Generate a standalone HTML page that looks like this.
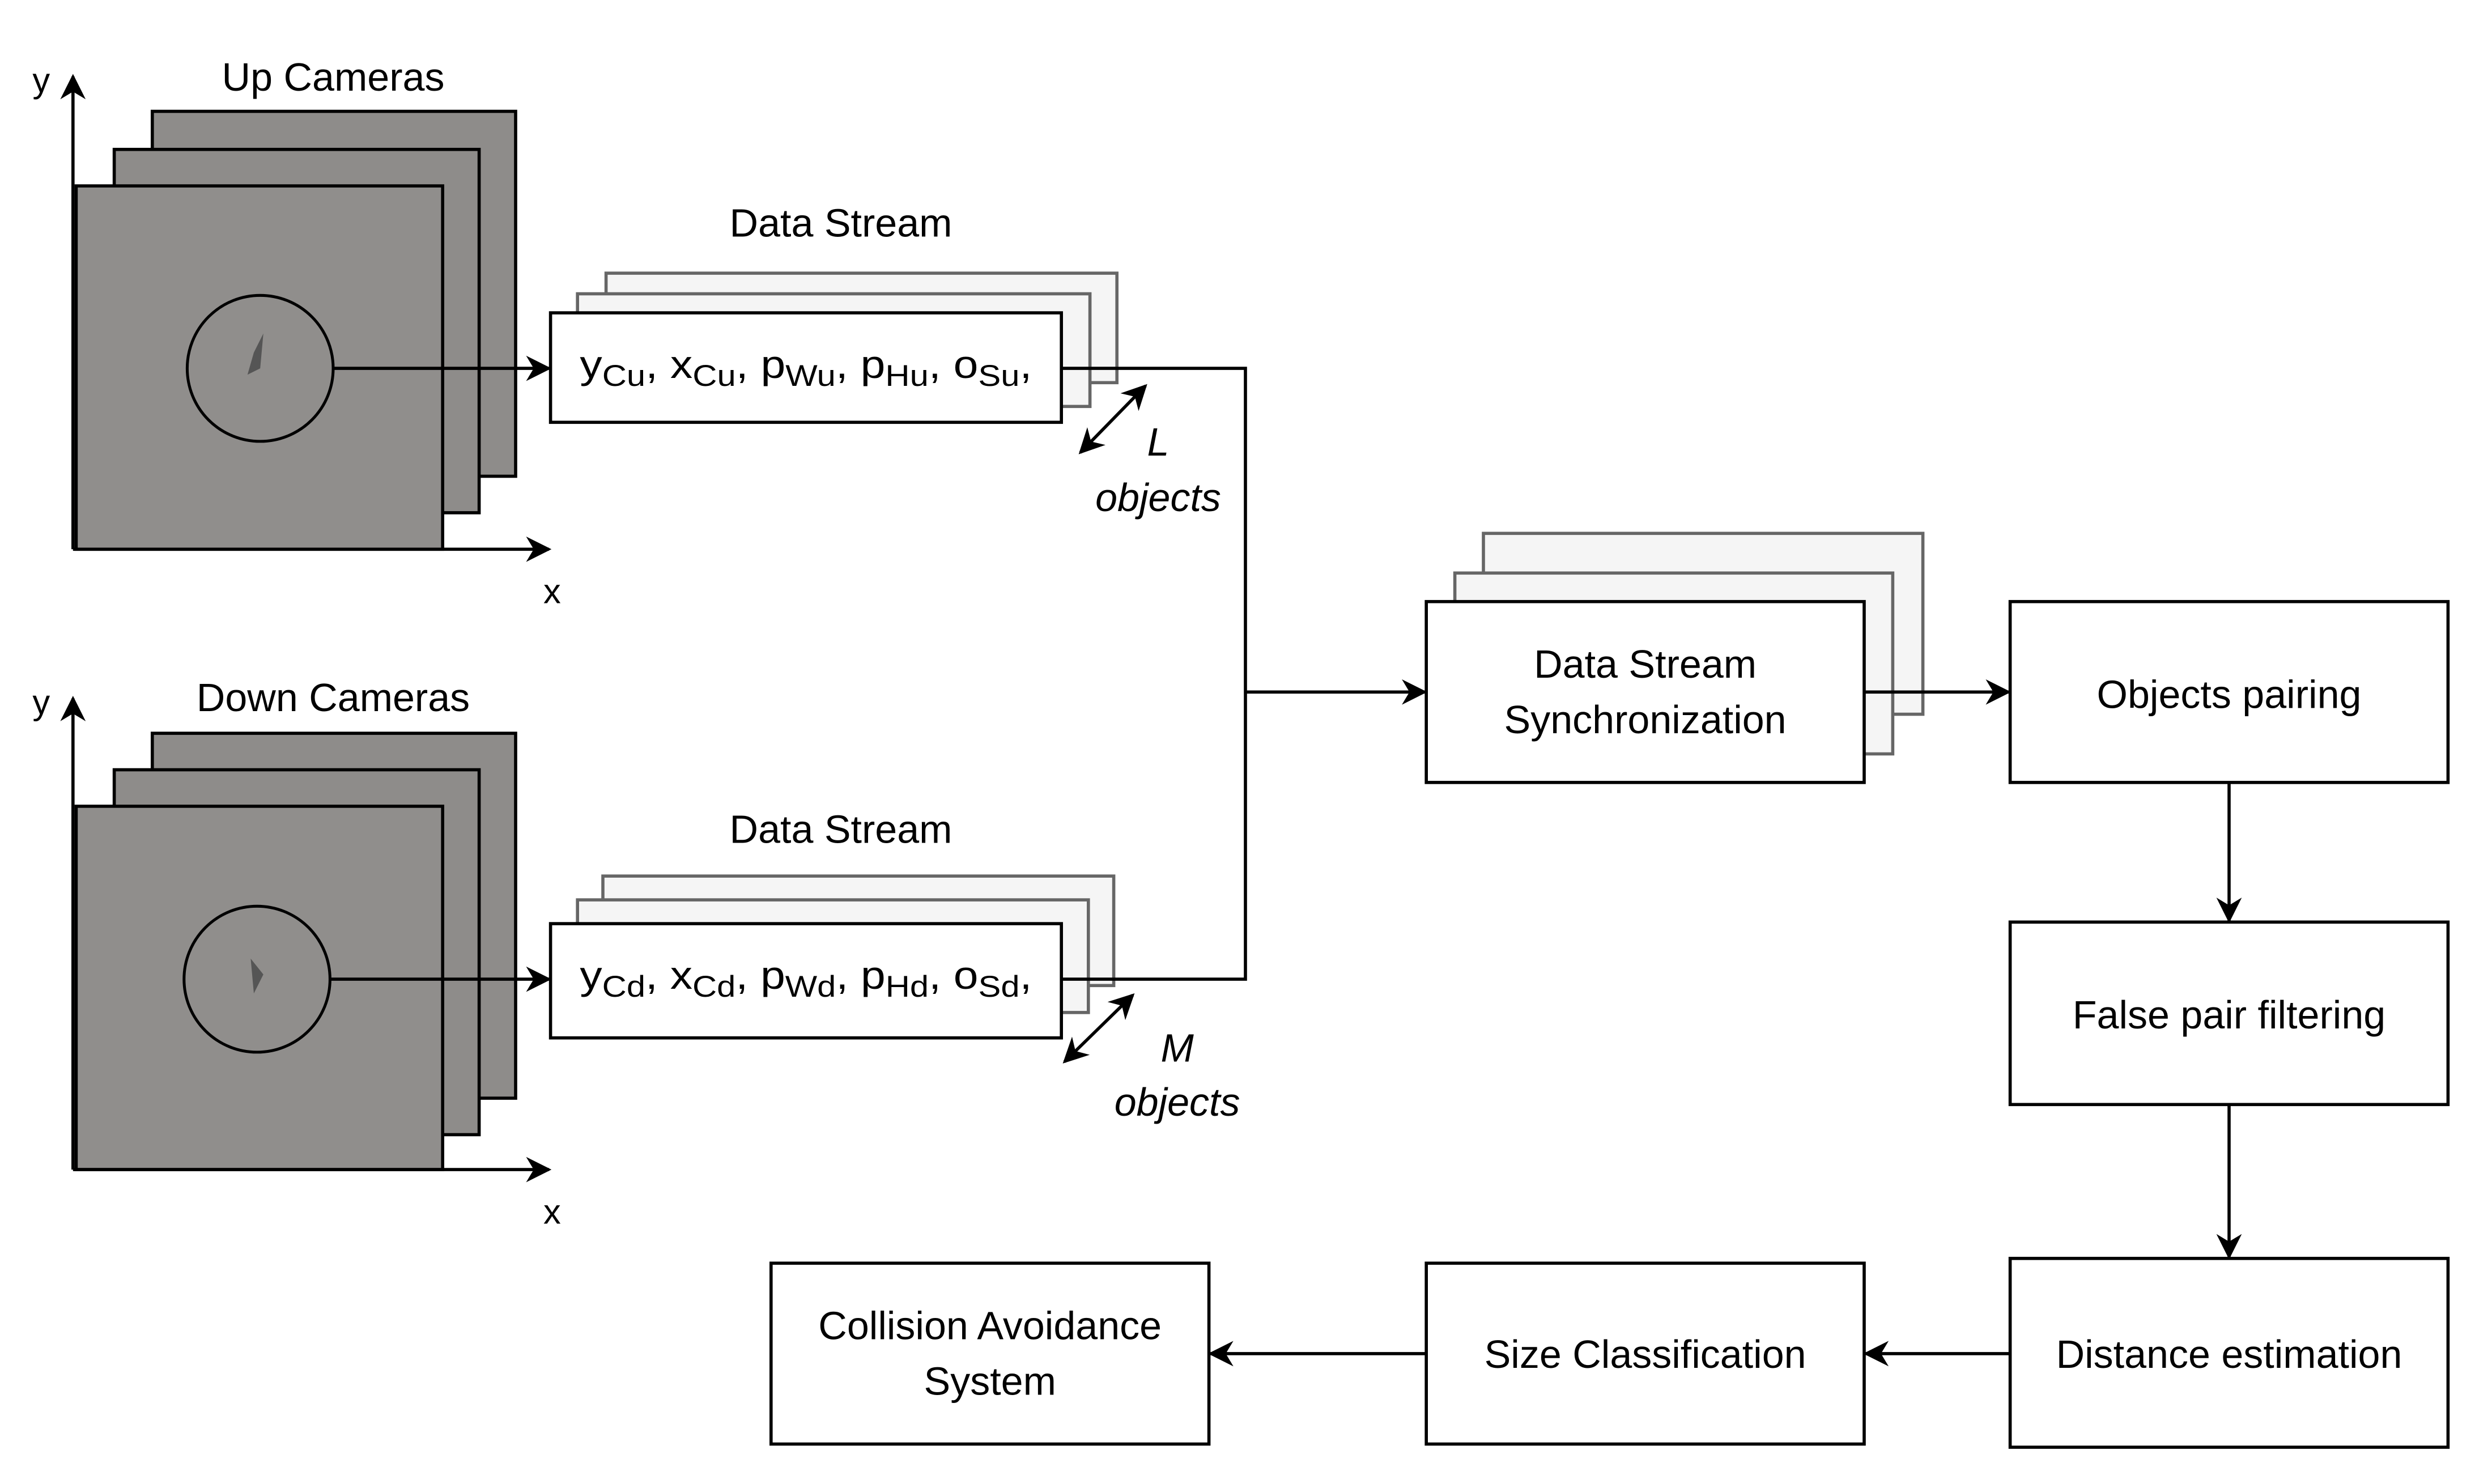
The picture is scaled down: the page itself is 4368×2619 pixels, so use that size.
<!DOCTYPE html>
<html><head><meta charset="utf-8"><style>html,body{margin:0;padding:0;background:#fff}svg{display:block}</style></head>
<body>
<svg width="4368" height="2619" viewBox="0 0 1560 935" xmlns="http://www.w3.org/2000/svg" font-family="Liberation Sans, Arial, sans-serif">
<defs>
<marker id="b" viewBox="0 0 10 10" refX="9" refY="5" markerWidth="16" markerHeight="16" markerUnits="userSpaceOnUse" orient="auto-start-reverse">
<path d="M0,0 L10,5 L0,10 L3,5 Z" fill="#000"/></marker>
</defs>
<rect width="1560" height="935" fill="#fff"/>
<g stroke="#000" stroke-width="2" fill="none">
<rect x="96" y="70" width="229" height="230" fill="#8e8c8a"/>
<rect x="72" y="94" width="230" height="229" fill="#8e8c8a"/>
<rect x="48" y="117" width="231" height="229" fill="#908e8c"/>
<path d="M160,222 L166,210 L164,232 L156,236 Z" fill="#555" stroke="none"/>
<circle cx="164" cy="232" r="46" stroke-width="1.8"/>
<line x1="46" y1="346" x2="46" y2="48" marker-end="url(#b)"/>
<line x1="46" y1="346" x2="346" y2="346" marker-end="url(#b)"/>
<rect x="96" y="462" width="229" height="230" fill="#8e8c8a"/>
<rect x="72" y="485" width="230" height="230" fill="#8e8c8a"/>
<rect x="48" y="508" width="231" height="229" fill="#908e8c"/>
<path d="M158,604 L166,614 L160,626 Z" fill="#555" stroke="none"/>
<circle cx="162" cy="617" r="46" stroke-width="1.8"/>
<line x1="46" y1="737" x2="46" y2="440" marker-end="url(#b)"/>
<line x1="46" y1="737" x2="346" y2="737" marker-end="url(#b)"/>
<rect x="382" y="172" width="322" height="69" fill="#f5f5f5" stroke="#666"/>
<rect x="364" y="185" width="323" height="71" fill="#f5f5f5" stroke="#666"/>
<rect x="347" y="197" width="322" height="69" fill="#fff"/>
<rect x="380" y="552" width="322" height="69" fill="#f5f5f5" stroke="#666"/>
<rect x="364" y="567" width="322" height="71" fill="#f5f5f5" stroke="#666"/>
<rect x="347" y="582" width="322" height="72" fill="#fff"/>
<rect x="935" y="336" width="277" height="114" fill="#f5f5f5" stroke="#666"/>
<rect x="917" y="361" width="276" height="114" fill="#f5f5f5" stroke="#666"/>
<rect x="899" y="379" width="276" height="114" fill="#fff"/>
<rect x="1267" y="379" width="276" height="114" fill="#fff"/>
<rect x="1267" y="581" width="276" height="115" fill="#fff"/>
<rect x="1267" y="793" width="276" height="119" fill="#fff"/>
<rect x="899" y="796" width="276" height="114" fill="#fff"/>
<rect x="486" y="796" width="276" height="114" fill="#fff"/>
<line x1="210" y1="232" x2="346" y2="232" marker-end="url(#b)"/>
<line x1="208" y1="617" x2="346" y2="617" marker-end="url(#b)"/>
<polyline points="669,232 785,232 785,617 669,617"/>
<line x1="785" y1="436" x2="898" y2="436" marker-end="url(#b)"/>
<line x1="1175" y1="436" x2="1266" y2="436" marker-end="url(#b)"/>
<line x1="1405" y1="493" x2="1405" y2="580" marker-end="url(#b)"/>
<line x1="1405" y1="696" x2="1405" y2="792" marker-end="url(#b)"/>
<line x1="1267" y1="853" x2="1176" y2="853" marker-end="url(#b)"/>
<line x1="899" y1="853" x2="763" y2="853" marker-end="url(#b)"/>
<line x1="681" y1="285" x2="722" y2="243" marker-start="url(#b)" marker-end="url(#b)"/>
<line x1="671" y1="669" x2="714" y2="627" marker-start="url(#b)" marker-end="url(#b)"/>
</g>
<g fill="#000" font-size="25" text-anchor="middle">
<text x="26" y="58" font-size="22">y</text>
<text x="26" y="450" font-size="22">y</text>
<text x="348" y="380" font-size="22">x</text>
<text x="348" y="771" font-size="22">x</text>
<text x="210" y="57">Up Cameras</text>
<text x="210" y="448">Down Cameras</text>
<text x="530" y="149">Data Stream</text>
<text x="530" y="531">Data Stream</text>
<text x="508" y="238" font-size="25" textLength="285" lengthAdjust="spacingAndGlyphs">y<tspan font-size="19" dy="5">Cu</tspan><tspan dy="-5">, x</tspan><tspan font-size="19" dy="5">Cu</tspan><tspan dy="-5">, p</tspan><tspan font-size="19" dy="5">Wu</tspan><tspan dy="-5">, p</tspan><tspan font-size="19" dy="5">Hu</tspan><tspan dy="-5">, o</tspan><tspan font-size="19" dy="5">Su</tspan><tspan dy="-5">,</tspan></text>
<text x="508" y="623" font-size="25" textLength="285" lengthAdjust="spacingAndGlyphs">y<tspan font-size="19" dy="5">Cd</tspan><tspan dy="-5">, x</tspan><tspan font-size="19" dy="5">Cd</tspan><tspan dy="-5">, p</tspan><tspan font-size="19" dy="5">Wd</tspan><tspan dy="-5">, p</tspan><tspan font-size="19" dy="5">Hd</tspan><tspan dy="-5">, o</tspan><tspan font-size="19" dy="5">Sd</tspan><tspan dy="-5">,</tspan></text>
<g font-style="italic">
<text x="730" y="287">L</text>
<text x="730" y="322">objects</text>
<text x="742" y="669">M</text>
<text x="742" y="703">objects</text>
</g>
<text x="1037" y="427">Data Stream</text>
<text x="1037" y="462">Synchronization</text>
<text x="1405" y="446">Objects pairing</text>
<text x="1405" y="648">False pair filtering</text>
<text x="1405" y="862">Distance estimation</text>
<text x="1037" y="862">Size Classification</text>
<text x="624" y="844">Collision Avoidance</text>
<text x="624" y="879">System</text>
</g>
</svg>
</body></html>
